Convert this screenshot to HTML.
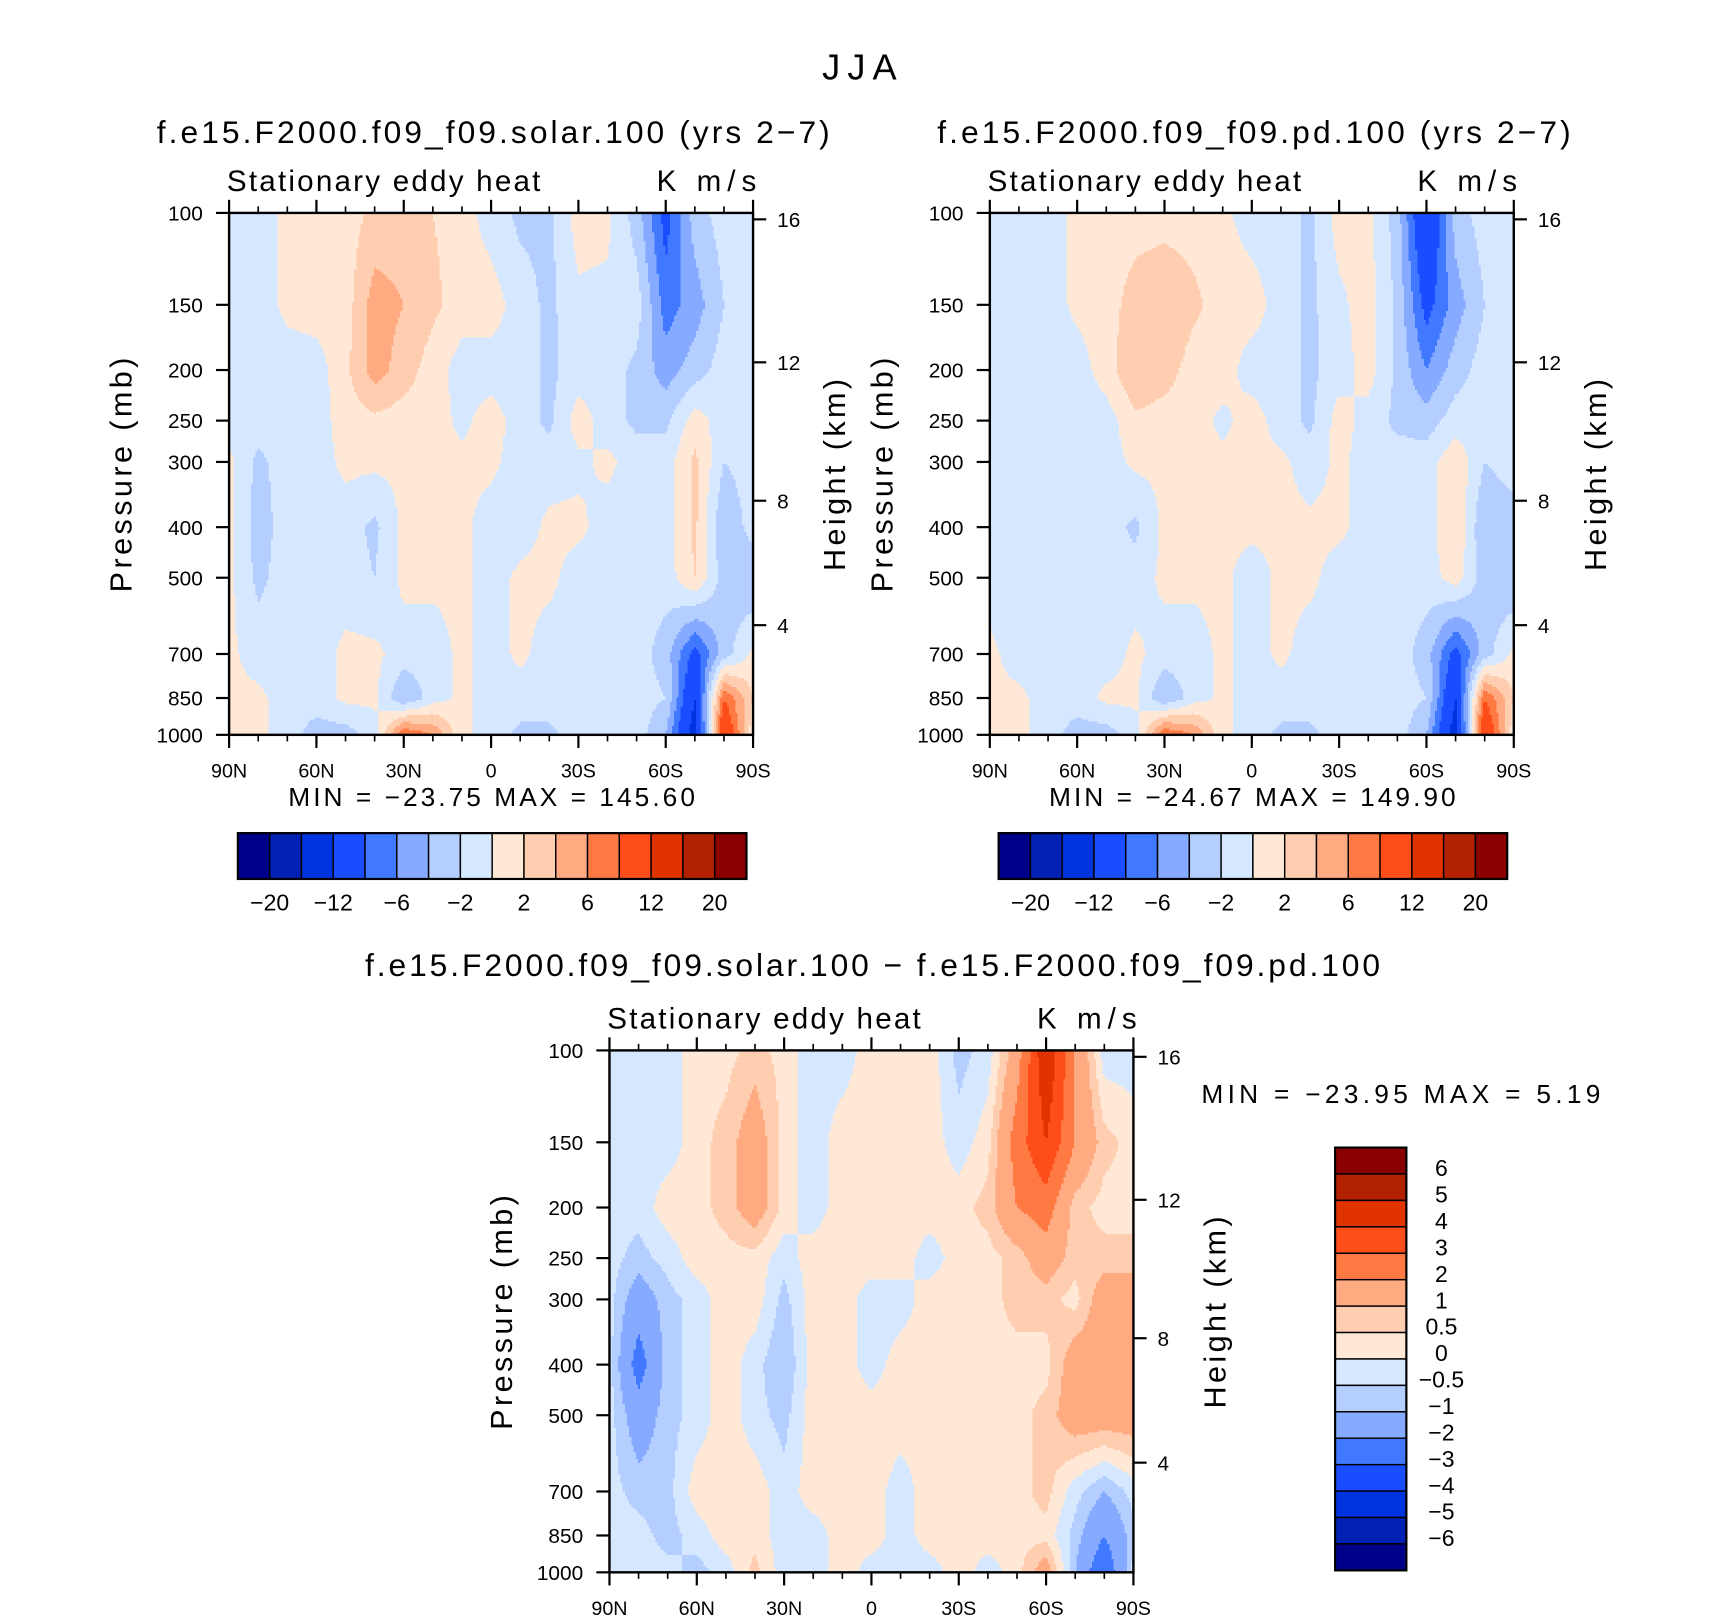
<!DOCTYPE html>
<html><head><meta charset="utf-8"><style>
html,body{margin:0;padding:0;background:#fff;}
svg{display:block;font-family:"Liberation Sans",sans-serif;}
</style></head><body>
<svg id="fig" width="1710" height="1616" viewBox="0 0 1560 1480" preserveAspectRatio="none" xmlns="http://www.w3.org/2000/svg">
<rect width="1560" height="1480" fill="#fff"/>
<text x="750" y="73" font-size="33" textLength="68" lengthAdjust="spacing">JJA</text>
</svg>
<script>
const lats = [90,80,70,60,50,40,30,20,10,0,-10,-20,-30,-40,-50,-60,-70,-80,-90];
const pressures = [100,150,200,250,300,400,500,700,850,1000];
const pTicks = [100,150,200,250,300,400,500,700,850,1000];
const hTicks = [16,12,8,4];
const xTickLabels = ['90N','60N','30N','0','30S','60S','90S'];
const xTickLats = [90,60,30,0,-30,-60,-90];
const colors = ['#00008a','#0021b3','#0033e0','#1a4dff','#4078ff','#85aaff','#b3ceff','#d6e8ff','#ffe9d6','#ffcdb0','#ffaa80','#ff7a42','#ff4d1a','#e03300','#b32200','#8a0000'];
const levelsAbs = [-20,-16,-12,-8,-6,-4,-2,0,2,4,6,8,12,16,20];
const levelLabelsAbs = ['−20','','−12','','−6','','−2','','2','','6','','12','','20'];
const levelsDiff = [-6,-5,-4,-3,-2,-1,-0.5,0,0.5,1,2,3,4,5,6];
const levelLabelsDiff = ['−6','−5','−4','−3','−2','−1','−0.5','0','0.5','1','2','3','4','5','6'];

const solar = [
 [-1,-1,0.5,1,1,2.5,3,2,1,-1,-2.5,-2.5,1,0.5,-3,-9,-3,-1,-1],
 [-1,-1,0.5,1,1,5,4,2.5,1,1,-1,-2.5,-0.5,-0.5,-1,-7,-5,-2,-1],
 [-1,-1,-1,-1,1.5,5,3,1,-1,-1,-1,-2.5,-1,-1,-2.5,-5,-3,-1,-1],
 [-1,-1,-1,-1,1,1.5,1,1,-0.5,1,-1,-2.5,1,-1,-2.5,-2.5,1,-1,-1],
 [0.5,-2.5,-1,-1,0.5,0.5,0.5,0.5,0.5,0.5,-1,-1,-0.5,0.5,-1,-1,2.5,-2,-1],
 [0.5,-3,-1,-1,-1,-2.5,0.5,0.5,0.5,-1,-1,0.5,0.5,-1,-1,-1,2.5,-4,-1],
 [0.5,-2.5,-1,-1,-1,-2,0.5,0.5,0.5,-1,0.5,0.5,-1,-1,-1,-1,2,-3,-4],
 [0.5,-1,-1,-1,0.5,0.5,-1,-1,0.5,-1,0.5,-1,-1,-1,-1,-3,-9,-3,0.5],
 [0.5,0.5,-1,-1,0.5,0.5,-4,-1,0.5,-1,-1,-1,-1,-1,-1,-2,-12,8,2],
 [0.5,0.5,-1,-3,-3,-1,8,6,0.5,-1,-2.5,-2.5,-1,-1,-1,-4,-14,12,0.5]
];
const pd = [
 [-1,-1,-1,0.5,1,1,1,1,0.5,-1,-1,-2.5,1,0.5,-3,-12,-3,-1,-1],
 [-1,-1,-1,0.5,1,3,4,2.5,1,1,-1,-2.5,-0.5,1,-2.5,-9,-5,-2,-1],
 [-1,-1,-1,-1,1,4,3,1,1,-1,-1,-2.5,-1,1,-2.5,-6,-3,-1,-1],
 [-1,-1,-1,-1,-1,1.5,1,1,-0.5,1,-1,-2.5,1,-1,-2.5,-3,-1,-1,-1],
 [-1,-1,-1,-1,-1,0.5,0.5,0.5,0.5,0.5,0.5,-1,0.5,-1,-1,-1,1.5,-2,-1],
 [-1,-1,-1,-1,-1,-2.5,0.5,0.5,0.5,0.5,0.5,0.5,0.5,-1,-1,-1,2,-4,-3],
 [-1,-1,-1,-1,-1,-1,0.5,0.5,0.5,-1,0.5,0.5,-1,-1,-1,-1,1,-3,-4],
 [0.5,-1,-1,-1,-1,0.5,-1,-1,0.5,-1,0.5,-1,-1,-1,-1,-3,-9,-3,0.5],
 [0.5,0.5,-1,-1,0.5,0.5,-4,-1,0.5,-1,-1,-1,-1,-1,-1,-2,-12,8,2],
 [0.5,0.5,-1,-3,-3,-1,8,6,0.5,-1,-2.5,-2.5,-1,-1,-1,-4,-14,12,0.5]
];
const diff = [
 [-0.3,-0.3,-0.3,0.3,0.3,0.7,0.3,-0.3,-0.3,0.3,0.3,0.3,-0.7,-0.3,1.5,5,2,-0.3,-0.3],
 [-0.3,-0.3,-0.3,0.3,0.7,1.5,0.3,-0.3,0.3,0.3,0.3,0.3,-0.3,0.3,2.5,4,2,0.7,0.3],
 [-0.3,-0.3,0.3,0.3,0.7,1.5,0.3,-0.3,0.3,0.3,0.3,0.3,0.3,0.7,2,2.5,0.7,0.3,0.3],
 [-0.3,-0.7,-0.3,0.3,0.3,0.3,-0.3,0.3,0.3,0.3,0.3,-0.3,0.3,0.3,0.7,1.5,0.7,0.7,0.7],
 [-0.3,-1.5,-0.7,-0.3,0.3,0.3,-0.7,0.3,0.3,-0.3,-0.3,0.3,0.3,0.3,0.7,0.7,0.3,1.5,1.5],
 [-0.3,-2.5,-0.7,-0.3,0.3,-0.3,-1,0.3,0.3,-0.3,0.3,0.3,0.3,0.3,0.3,0.3,1.5,1.5,1.5],
 [-0.3,-1.5,-0.7,-0.3,0.3,-0.3,-0.7,0.3,0.3,0.3,0.3,0.3,0.3,0.3,0.3,0.7,1.5,1.5,1.5],
 [-0.3,-0.7,-0.7,0.3,0.3,0.3,-0.3,0.3,0.3,0.3,-0.3,0.3,0.3,0.3,0.3,0.7,-0.3,-1,-0.3],
 [-0.3,-0.3,-0.7,-0.3,0.3,0.3,-0.3,-0.3,0.3,0.3,-0.3,0.3,0.3,0.3,0.3,0.3,-0.7,-2,-0.7],
 [-0.3,-0.3,-0.3,-0.7,-0.3,0.7,-0.3,-0.3,0.3,-0.3,-0.3,-0.3,0.3,-0.3,0.3,1.5,-1,-3,-0.3]
];

const NS='http://www.w3.org/2000/svg';
const svg=document.getElementById('fig');
function mk(tag,attrs,parent,text){const e=document.createElementNS(NS,tag);for(const k in attrs)e.setAttribute(k,attrs[k]);if(text!==undefined)e.textContent=text;(parent||svg).appendChild(e);return e;}
function hToP(km){const h=km*1000;return h<=11000?1013.25*Math.pow(1-2.25577e-5*h,5.25588):226.32*Math.exp(-(h-11000)/6341.6);}
function colorFor(v,levels){let i=0;while(i<levels.length&&v>=levels[i])i++;return colors[i];}
function sample(grid,lat,p){
  let i=0;while(i<lats.length-2&&lat<lats[i+1])i++;
  let fx=(lats[i]-lat)/(lats[i]-lats[i+1]);fx=Math.max(0,Math.min(1,fx));
  const lp=Math.log(p);let j=0;while(j<pressures.length-2&&p>pressures[j+1])j++;
  let fy=(lp-Math.log(pressures[j]))/(Math.log(pressures[j+1])-Math.log(pressures[j]));fy=Math.max(0,Math.min(1,fy));
  const a=grid[j][i],b=grid[j][i+1],c=grid[j+1][i],d=grid[j+1][i+1];
  return a*(1-fx)*(1-fy)+b*fx*(1-fy)+c*(1-fx)*fy+d*fx*fy;
}
function panel(o){
  const g=mk('g',{});
  
  
  const W=478,H=478;
  const L=o.x,R=o.x+W,T=o.y,B=o.y+H;
  const xOf=lat=>L+(90-lat)/180*W;
  const yOf=p=>B-Math.log10(1000/p)*H;
  const latOf=x=>90-(x-L)/W*180;
  const pOf=y=>1000/Math.pow(10,(B-y)/H);
  const field=mk('g',{'shape-rendering':'crispEdges'},g);
  
  
  const st=2;
  function flush(c,x0,x1,y){
    const r=mk('rect',{x:x0,y:y,width:x1-x0+0.3,height:Math.min(st,B-y)+0.3,fill:c},field);
    
    
  }
  for(let y=T;y<B;y+=st){
    const p=pOf(Math.min(y+st/2,B));let run=null,rx=L;
    for(let x=L;x<R;x+=st){
      const c=colorFor(sample(o.data,latOf(Math.min(x+st/2,R)),p),o.levels);
      if(c!==run){if(run)flush(run,rx,x,y);run=c;rx=x;}
    }
    if(run)flush(run,rx,R,y);
  }
  const fr=mk('rect',{x:L,y:T,width:W,height:H,fill:'none',stroke:'#000','stroke-width':2.2},g);
  
  for(let lat=90;lat>=-90;lat-=10){
    const x=xOf(lat),maj=(lat%30===0);const len=maj?12:6;
    mk('line',{x1:x,y1:B,x2:x,y2:B+len,stroke:'#000','stroke-width':maj?2:1.5},g);
    mk('line',{x1:x,y1:T,x2:x,y2:T-len,stroke:'#000','stroke-width':maj?2:1.5},g);
  }
  xTickLats.forEach((lat,k)=>{const t=mk('text',{x:xOf(lat),y:B+39,'font-size':18,'text-anchor':'middle'},g,xTickLabels[k]);});
  pTicks.forEach(p=>{const y=yOf(p);mk('line',{x1:L,y1:y,x2:L-12,y2:y,stroke:'#000','stroke-width':2},g);
    const t=mk('text',{x:L-24,y:y+7,'font-size':19,'text-anchor':'end'},g,String(p));});
  hTicks.forEach(h=>{const y=yOf(hToP(h));mk('line',{x1:R,y1:y,x2:R+12,y2:y,stroke:'#000','stroke-width':2},g);
    const t=mk('text',{x:R+22,y:y+7,'font-size':19},g,String(h));});
  let t=mk('text',{x:L-2,y:T-20,'font-size':27,textLength:286,lengthAdjust:'spacing'},g,'Stationary eddy heat');
  t=mk('text',{x:R-88,y:T-20,'font-size':27,textLength:91,lengthAdjust:'spacing'},g,'K m/s');
  t=mk('text',{x:-107.5,y:0,'font-size':28,textLength:215,lengthAdjust:'spacing',transform:`translate(${L-89},${T+240}) rotate(-90)`},g,'Pressure (mb)');
  t=mk('text',{x:-88,y:0,'font-size':28,textLength:176,lengthAdjust:'spacing',transform:`translate(${R+84},${T+240}) rotate(-90)`},g,'Height (km)');
  t=mk('text',{x:o.titleX,y:o.titleY,'font-size':29,textLength:o.titleW,lengthAdjust:'spacing'},g,o.title);
  t=mk('text',{x:o.mmX,y:o.mmY,'font-size':24,textLength:o.mmW,lengthAdjust:'spacing','xml:space':'preserve'},g,o.minmax);
}
function hbar(x0,y0){
  const g=mk('g',{});
  const w=29,h=42;
  colors.forEach((c,i)=>{const r=mk('rect',{x:x0+i*w,y:y0,width:w,height:h,fill:c,stroke:'#000','stroke-width':1.3},g);});
  mk('rect',{x:x0,y:y0,width:w*16,height:h,fill:'none',stroke:'#000','stroke-width':2},g);
  levelLabelsAbs.forEach((s,i)=>{if(!s)return;const t=mk('text',{x:x0+(i+1)*w,y:y0+71,'font-size':21,'text-anchor':'middle'},g,s);});
}
panel({name:'solar-panel',x:209,y:195,data:solar,levels:levelsAbs,title:'f.e15.F2000.f09_f09.solar.100 (yrs 2−7)',titleX:143,titleW:614,titleY:131,minmax:'MIN = −23.75   MAX = 145.60',mmX:263,mmW:371,mmY:738});
panel({name:'pd-panel',x:903,y:195,data:pd,levels:levelsAbs,title:'f.e15.F2000.f09_f09.pd.100 (yrs 2−7)',titleX:855,titleW:578,titleY:131,minmax:'MIN = −24.67   MAX = 149.90',mmX:957,mmW:371,mmY:738});
panel({name:'diff-panel',x:556,y:962,data:diff,levels:levelsDiff,title:'f.e15.F2000.f09_f09.solar.100 − f.e15.F2000.f09_f09.pd.100',titleX:333,titleW:926,titleY:894,minmax:'MIN = −23.95   MAX =    5.19',mmX:1096,mmW:364,mmY:1010});
hbar(217,763);
hbar(911,763);
(function(){
  const g=mk('g',{});
  const x0=1218,y0=1051,w=65,h=24.2;
  colors.slice().reverse().forEach((c,i)=>{const r=mk('rect',{x:x0,y:y0+i*h,width:w,height:h,fill:c,stroke:'#000','stroke-width':1.3},g);});
  mk('rect',{x:x0,y:y0,width:w,height:h*16,fill:'none',stroke:'#000','stroke-width':2},g);
  levelLabelsDiff.slice().reverse().forEach((s,i)=>{const t=mk('text',{x:1315,y:y0+(i+1)*h+2,'font-size':21,'text-anchor':'middle'},g,s);});
})();
</script>
</body></html>
